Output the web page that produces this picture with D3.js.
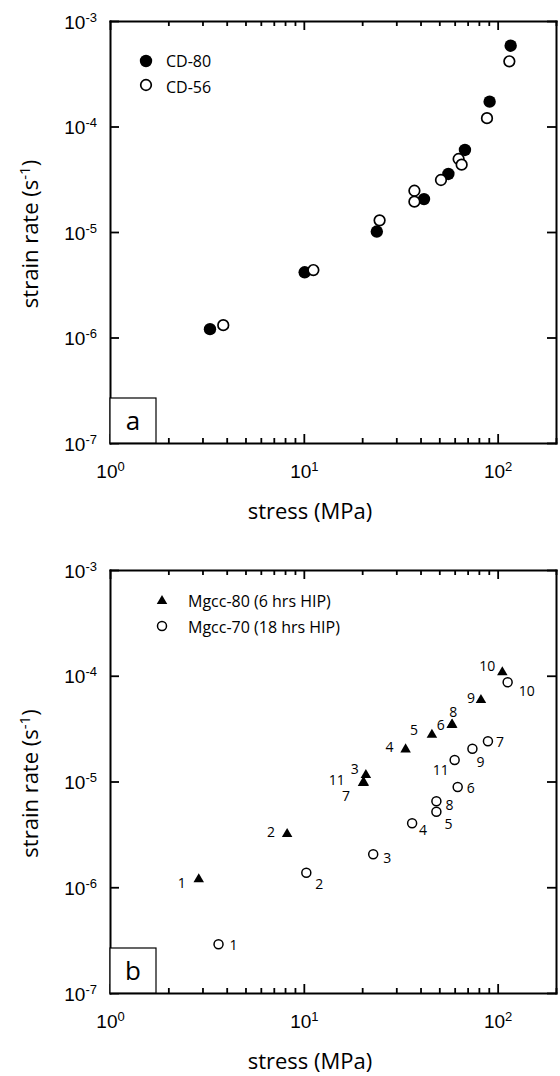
<!DOCTYPE html>
<html>
<head>
<meta charset="utf-8">
<script src="https://cdn.jsdelivr.net/npm/d3@7"></script>
<style>
  body { margin: 0; background: #fff; }
  svg { display: block; font-family: "Open Sans", sans-serif; }
  text { fill: #000; }
</style>
</head>
<body>
<svg id="chart" width="560" height="1076"></svg>
<script>
// axes
const xDomain = [1, 200];
const yDomain = [1e-7, 1e-3];
const xMajor = [1, 10, 100];
const xMinor = [2, 3, 4, 5, 6, 7, 8, 9, 20, 30, 40, 50, 60, 70, 80, 90, 200];
const yMajor = [1e-7, 1e-6, 1e-5, 1e-4, 1e-3];

// panel a
const cd80Stress = [3.28, 10.1, 23.8, 41.7, 55.7, 67.8, 90.9, 116.7];
const cd80Rate = [1.20e-6, 4.15e-6, 1.01e-5, 2.05e-5, 3.55e-5, 5.99e-5, 1.72e-4, 5.83e-4];
const cd56Stress = [3.84, 11.2, 24.6, 37.2, 37.2, 51.0, 62.9, 65.2, 88.1, 114.9];
const cd56Rate = [1.31e-6, 4.36e-6, 1.29e-5, 2.46e-5, 1.94e-5, 3.11e-5, 4.92e-5, 4.35e-5, 1.20e-4, 4.15e-4];

// panel b, run numbers 1..11
const runIds = [1, 2, 3, 4, 5, 6, 7, 8, 9, 10, 11];
const mg80Stress = [2.87, 8.20, 20.9, 33.5, 45.8, 57.9, 20.2, 58.3, 82.0, 105.7, 20.4];
const mg80Rate = [1.19e-6, 3.19e-6, 1.15e-5, 2.01e-5, 2.77e-5, 3.42e-5, 9.7e-6, 3.45e-5, 5.90e-5, 1.08e-4, 9.75e-6];
const mg70Stress = [3.63, 10.3, 22.8, 36.2, 48.3, 62.2, 89.1, 48.3, 74.1, 112.6, 60.0];
const mg70Rate = [2.89e-7, 1.37e-6, 2.05e-6, 4.03e-6, 5.18e-6, 8.87e-6, 2.40e-5, 6.50e-6, 2.04e-5, 8.67e-5, 1.60e-5];

// where each run number sits next to its marker (px)
const mg80LabelOff = [[-17,4],[-16,-2],[-11,-6],[-16,-2],[-18,-5],[-11,0],[-17,13],[1,-13],[-10,-2],[-15,-6],[-27,-3]];
const mg70LabelOff = [[15,1],[13,11],[14,4],[11,7],[12,12],[13,1],[12,1],[13,4],[8,13],[19,9],[-14,10]];

const svg = d3.select("#chart");
const xRange = [110, 556];

function supLabels(sel, x, y, anchor) {
    sel.each(function(d) {
        const t = d3.select(this);
        t.text(null).attr("x", x).attr("y", y).attr("dy", null)
            .attr("text-anchor", anchor)
            .style("font-size", "19px").attr("fill", "#000");
        t.append("tspan").text("10");
        t.append("tspan").attr("dy", -7).style("font-size", "13px")
            .text(Math.round(Math.log10(d)));
    });
}

function drawPanel(p) {
    const g = svg.append("g");
    const x = d3.scaleLog().domain(xDomain).range(xRange);
    const y = d3.scaleLog().domain(yDomain).range([p.bottom, p.top]);

    const bottom = g.append("g").attr("transform", `translate(0,${p.bottom})`)
        .call(d3.axisBottom(x).tickValues(xMajor).tickSize(-9).tickSizeOuter(0));
    supLabels(bottom.selectAll(".tick text"), 0, 35, "middle");
    g.append("g").attr("transform", `translate(0,${p.bottom})`)
        .call(d3.axisBottom(x).tickValues(xMinor).tickSize(-5).tickFormat(""))
        .select(".domain").remove();

    g.append("g").attr("transform", `translate(0,${p.top})`)
        .call(d3.axisTop(x).tickValues(xMajor).tickSize(-9).tickSizeOuter(0).tickFormat(""));
    g.append("g").attr("transform", `translate(0,${p.top})`)
        .call(d3.axisTop(x).tickValues(xMinor).tickSize(-5).tickFormat(""))
        .select(".domain").remove();

    const left = g.append("g").attr("transform", `translate(${xRange[0]},0)`)
        .call(d3.axisLeft(y).tickValues(yMajor).tickSize(-9).tickSizeOuter(0));
    supLabels(left.selectAll(".tick text"), -13, 7, "end");
    g.append("g").attr("transform", `translate(${xRange[1]},0)`)
        .call(d3.axisRight(y).tickValues(yMajor).tickSize(-9).tickSizeOuter(0).tickFormat(""));

    g.selectAll(".domain").attr("stroke-width", 2).attr("stroke-linecap", "square");
    g.selectAll(".tick line").attr("stroke-width", 1.8);

    // axis titles
    g.append("text").attr("x", 310).attr("y", p.bottom + 76)
        .attr("text-anchor", "middle").style("font-size", "22px")
        .text("stress (MPa)");
    const yt = g.append("text")
        .attr("transform", `translate(38,${(p.top + p.bottom) / 2 + 2}) rotate(-90)`)
        .attr("text-anchor", "middle").style("font-size", "22px");
    yt.append("tspan").text("strain rate (s");
    yt.append("tspan").attr("dy", -8).style("font-size", "15px").text("-1");
    yt.append("tspan").attr("dy", 8).text(")");

    // panel letter box
    g.append("rect").attr("x", xRange[0]).attr("y", p.bottom - 45)
        .attr("width", 46).attr("height", 45)
        .attr("fill", "#fff").attr("stroke", "#000").attr("stroke-width", 1.2);
    g.append("text").attr("x", xRange[0] + 23).attr("y", p.bottom - 22)
        .attr("dy", "0.35em").attr("text-anchor", "middle")
        .style("font-size", "26px").text(p.letter);

    return {g, x, y};
}

// ---- panel a ----
const a = drawPanel({top: 21, bottom: 443, letter: "a"});

a.g.append("g").selectAll("circle")
    .data(d3.zip(cd80Stress, cd80Rate))
    .join("circle")
    .attr("cx", d => a.x(d[0])).attr("cy", d => a.y(d[1]))
    .attr("r", 6.2).attr("fill", "#000");

a.g.append("g").selectAll("circle")
    .data(d3.zip(cd56Stress, cd56Rate))
    .join("circle")
    .attr("cx", d => a.x(d[0])).attr("cy", d => a.y(d[1]))
    .attr("r", 5.3).attr("fill", "#fff").attr("stroke", "#000").attr("stroke-width", 1.7);

// legend a
a.g.append("circle").attr("cx", 146).attr("cy", 61).attr("r", 6.2).attr("fill", "#000");
a.g.append("circle").attr("cx", 146).attr("cy", 85).attr("r", 5.3)
    .attr("fill", "#fff").attr("stroke", "#000").attr("stroke-width", 1.7);
a.g.append("text").attr("x", 166).attr("y", 61).attr("dy", "0.35em")
    .style("font-size", "16px").text("CD-80");
a.g.append("text").attr("x", 166).attr("y", 87).attr("dy", "0.35em")
    .style("font-size", "16px").text("CD-56");

// ---- panel b ----
const b = drawPanel({top: 570, bottom: 993, letter: "b"});
const tri = d3.symbol().type(d3.symbolTriangle).size(48);

const mg80 = runIds.map((id, i) => ({id, s: mg80Stress[i], r: mg80Rate[i], off: mg80LabelOff[i]}));
const mg70 = runIds.map((id, i) => ({id, s: mg70Stress[i], r: mg70Rate[i], off: mg70LabelOff[i]}));

b.g.append("g").selectAll("path")
    .data(mg80)
    .join("path")
    .attr("d", tri)
    .attr("transform", d => `translate(${b.x(d.s)},${b.y(d.r)})`)
    .attr("fill", "#000");

b.g.append("g").selectAll("circle")
    .data(mg70)
    .join("circle")
    .attr("cx", d => b.x(d.s)).attr("cy", d => b.y(d.r))
    .attr("r", 4.5).attr("fill", "#fff").attr("stroke", "#000").attr("stroke-width", 1.5);

b.g.append("g").selectAll("text")
    .data(mg80.concat(mg70))
    .join("text")
    .attr("x", d => b.x(d.s) + d.off[0]).attr("y", d => b.y(d.r) + d.off[1])
    .attr("dy", "0.35em").attr("text-anchor", "middle")
    .attr("fill", "#000")
    .style("font-size", "14px")
    .text(d => d.id);

// legend b
b.g.append("path").attr("d", tri).attr("transform", "translate(162,601)").attr("fill", "#000");
b.g.append("circle").attr("cx", 162).attr("cy", 626).attr("r", 4.5)
    .attr("fill", "#fff").attr("stroke", "#000").attr("stroke-width", 1.5);
b.g.append("text").attr("x", 188).attr("y", 601).attr("dy", "0.35em")
    .style("font-size", "16px").text("Mgcc-80 (6 hrs HIP)");
b.g.append("text").attr("x", 188).attr("y", 627).attr("dy", "0.35em")
    .style("font-size", "16px").text("Mgcc-70 (18 hrs HIP)");
</script>
</body>
</html>
